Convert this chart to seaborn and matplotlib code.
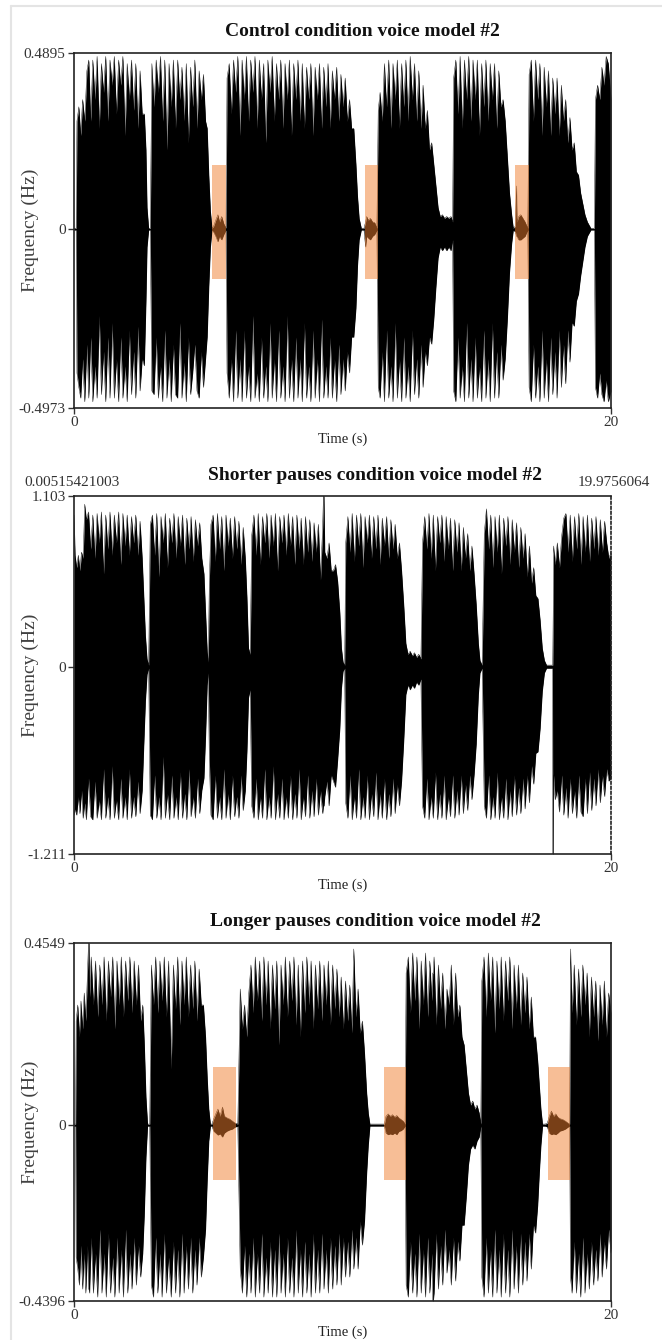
import numpy as np
import matplotlib
matplotlib.use("Agg")
import matplotlib.pyplot as plt
import seaborn as sns

# panel titles / axis limits / tick labels
titles = ["Control condition voice model #2",
          "Shorter pauses condition voice model #2",
          "Longer pauses condition voice model #2"]
y_max = [0.4895, 1.103, 0.4549]
y_min = [-0.4973, -1.211, -0.4396]
y_ticklabels = [["-0.4973", "0", "0.4895"],
                ["-1.211", "0", "1.103"],
                ["-0.4396", "0", "0.4549"]]
x_ticks = [0, 20]
sel_start = "0.00515421003"
sel_end = "19.9756064"

# waveform envelope: (time s, upper, lower)
ctrl_env = [
    (0.00, 0.0025, -0.0025), (0.08, 0.0025, -0.0025),
    (0.11, 0.30, -0.40), (0.18, 0.34, -0.44), (0.25, 0.26, -0.47), (0.32, 0.36, -0.36),
    (0.40, 0.30, -0.48), (0.48, 0.44, -0.32), (0.55, 0.47, -0.47), (0.62, 0.30, -0.30),
    (0.70, 0.47, -0.48), (0.78, 0.36, -0.38), (0.86, 0.48, -0.47), (0.94, 0.28, -0.24),
    (1.02, 0.46, -0.46), (1.10, 0.38, -0.34), (1.18, 0.48, -0.48), (1.26, 0.30, -0.30),
    (1.34, 0.47, -0.47), (1.42, 0.40, -0.26), (1.50, 0.48, -0.47), (1.58, 0.32, -0.36),
    (1.66, 0.47, -0.48), (1.74, 0.40, -0.30), (1.82, 0.48, -0.47), (1.90, 0.26, -0.38),
    (1.98, 0.46, -0.48), (2.06, 0.36, -0.28), (2.14, 0.47, -0.46), (2.22, 0.33, -0.34),
    (2.30, 0.46, -0.47), (2.38, 0.28, -0.27), (2.46, 0.44, -0.45), (2.54, 0.32, -0.36),
    (2.62, 0.32, -0.38), (2.68, 0.22, -0.20), (2.72, 0.06, -0.05), (2.78, 0.0025, -0.0025),
    (2.84, 0.0025, -0.0025),
    (2.90, 0.46, -0.45), (2.98, 0.34, -0.46), (3.06, 0.47, -0.30), (3.14, 0.38, -0.47),
    (3.22, 0.48, -0.38), (3.30, 0.30, -0.48), (3.38, 0.47, -0.28), (3.46, 0.22, -0.47),
    (3.54, 0.46, -0.36), (3.62, 0.34, -0.48), (3.70, 0.47, -0.32), (3.78, 0.28, -0.46),
    (3.86, 0.47, -0.47), (3.94, 0.36, -0.26), (4.02, 0.45, -0.47), (4.10, 0.30, -0.37),
    (4.18, 0.46, -0.48), (4.26, 0.24, -0.30), (4.34, 0.45, -0.46), (4.42, 0.34, -0.40),
    (4.50, 0.47, -0.32), (4.58, 0.28, -0.45), (4.66, 0.44, -0.47), (4.74, 0.36, -0.34),
    (4.82, 0.43, -0.44), (4.90, 0.30, -0.36), (4.96, 0.28, -0.30), (5.02, 0.15, -0.16),
    (5.08, 0.05, -0.05), (5.14, 0.0025, -0.0025),
    (5.20, 0.008, -0.008), (5.28, 0.025, -0.02), (5.36, 0.04, -0.035), (5.42, 0.02, -0.02),
    (5.50, 0.035, -0.03), (5.58, 0.015, -0.015), (5.66, 0.0025, -0.0025),
    (5.70, 0.42, -0.40), (5.78, 0.46, -0.47), (5.86, 0.32, -0.36), (5.94, 0.47, -0.48),
    (6.02, 0.38, -0.28), (6.10, 0.48, -0.47), (6.18, 0.26, -0.36), (6.26, 0.47, -0.48),
    (6.34, 0.36, -0.28), (6.42, 0.48, -0.47), (6.50, 0.30, -0.38), (6.58, 0.47, -0.48),
    (6.66, 0.38, -0.24), (6.74, 0.48, -0.47), (6.82, 0.28, -0.40), (6.90, 0.47, -0.48),
    (6.98, 0.36, -0.30), (7.06, 0.46, -0.47), (7.14, 0.24, -0.38), (7.22, 0.47, -0.48),
    (7.30, 0.38, -0.26), (7.38, 0.48, -0.47), (7.46, 0.30, -0.36), (7.54, 0.46, -0.48),
    (7.62, 0.36, -0.28), (7.70, 0.47, -0.47), (7.78, 0.28, -0.38), (7.86, 0.46, -0.48),
    (7.94, 0.36, -0.24), (8.02, 0.47, -0.47), (8.10, 0.26, -0.36), (8.18, 0.46, -0.48),
    (8.26, 0.36, -0.30), (8.34, 0.47, -0.47), (8.42, 0.30, -0.36), (8.50, 0.46, -0.48),
    (8.58, 0.28, -0.26), (8.66, 0.45, -0.47), (8.74, 0.36, -0.38), (8.82, 0.46, -0.48),
    (8.90, 0.26, -0.28), (8.98, 0.45, -0.47), (9.06, 0.36, -0.36), (9.14, 0.46, -0.48),
    (9.22, 0.28, -0.25), (9.30, 0.45, -0.47), (9.38, 0.34, -0.38), (9.46, 0.46, -0.47),
    (9.54, 0.28, -0.30), (9.62, 0.44, -0.47), (9.70, 0.36, -0.36), (9.78, 0.45, -0.48),
    (9.86, 0.30, -0.32), (9.94, 0.43, -0.46), (10.02, 0.34, -0.36), (10.10, 0.42, -0.45),
    (10.18, 0.30, -0.34), (10.26, 0.36, -0.40), (10.34, 0.28, -0.30), (10.42, 0.28, -0.30),
    (10.50, 0.18, -0.22), (10.56, 0.09, -0.10), (10.62, 0.03, -0.03), (10.70, 0.0025, -0.0025),
    (10.80, 0.0025, -0.0025), (10.86, 0.02, -0.05), (10.90, 0.035, -0.02), (10.96, 0.025, -0.025),
    (11.04, 0.03, -0.03), (11.12, 0.02, -0.02), (11.20, 0.018, -0.015), (11.28, 0.0025, -0.0025),
    (11.33, 0.33, -0.44), (11.40, 0.38, -0.47), (11.48, 0.30, -0.34), (11.56, 0.46, -0.48),
    (11.64, 0.34, -0.28), (11.72, 0.47, -0.47), (11.80, 0.28, -0.38), (11.88, 0.46, -0.48),
    (11.96, 0.36, -0.26), (12.04, 0.47, -0.47), (12.12, 0.28, -0.36), (12.20, 0.46, -0.48),
    (12.28, 0.34, -0.30), (12.36, 0.47, -0.47), (12.44, 0.30, -0.38), (12.52, 0.48, -0.48),
    (12.60, 0.36, -0.28), (12.68, 0.46, -0.46), (12.76, 0.30, -0.36), (12.84, 0.44, -0.47),
    (12.92, 0.28, -0.32), (13.00, 0.40, -0.44), (13.08, 0.28, -0.34), (13.16, 0.33, -0.38),
    (13.24, 0.22, -0.30), (13.32, 0.24, -0.32), (13.40, 0.18, -0.25), (13.48, 0.12, -0.16),
    (13.56, 0.06, -0.08), (13.64, 0.035, -0.05), (13.72, 0.04, -0.06), (13.80, 0.03, -0.05),
    (13.88, 0.035, -0.06), (13.96, 0.03, -0.05), (14.04, 0.035, -0.06), (14.10, 0.02, -0.03),
    (14.14, 0.42, -0.45), (14.22, 0.47, -0.48), (14.30, 0.32, -0.30), (14.38, 0.48, -0.47),
    (14.46, 0.28, -0.38), (14.54, 0.47, -0.48), (14.62, 0.36, -0.26), (14.70, 0.48, -0.47),
    (14.78, 0.30, -0.36), (14.86, 0.47, -0.48), (14.94, 0.36, -0.30), (15.02, 0.47, -0.47),
    (15.10, 0.26, -0.38), (15.18, 0.46, -0.48), (15.26, 0.34, -0.28), (15.34, 0.47, -0.47),
    (15.42, 0.30, -0.36), (15.50, 0.46, -0.48), (15.58, 0.36, -0.26), (15.66, 0.46, -0.47),
    (15.74, 0.28, -0.34), (15.82, 0.44, -0.47), (15.90, 0.34, -0.32), (15.98, 0.36, -0.42),
    (16.06, 0.30, -0.36), (16.14, 0.20, -0.25), (16.22, 0.10, -0.12), (16.30, 0.04, -0.04),
    (16.36, 0.0025, -0.0025),
    (16.44, 0.008, -0.008), (16.48, 0.12, -0.02), (16.50, 0.02, -0.02), (16.56, 0.035, -0.03),
    (16.64, 0.04, -0.03), (16.72, 0.03, -0.025), (16.80, 0.02, -0.02), (16.90, 0.0025, -0.0025),
    (16.95, 0.43, -0.44), (17.03, 0.47, -0.48), (17.11, 0.30, -0.32), (17.19, 0.47, -0.47),
    (17.27, 0.36, -0.38), (17.35, 0.46, -0.48), (17.43, 0.26, -0.28), (17.51, 0.45, -0.47),
    (17.59, 0.34, -0.36), (17.67, 0.44, -0.48), (17.75, 0.26, -0.30), (17.83, 0.42, -0.46),
    (17.91, 0.32, -0.34), (17.99, 0.42, -0.47), (18.07, 0.26, -0.28), (18.15, 0.40, -0.44),
    (18.23, 0.30, -0.32), (18.31, 0.36, -0.43), (18.39, 0.24, -0.28), (18.47, 0.31, -0.37),
    (18.55, 0.22, -0.26), (18.63, 0.24, -0.27), (18.71, 0.16, -0.20), (18.79, 0.15, -0.18),
    (18.87, 0.10, -0.13), (18.95, 0.07, -0.09), (19.03, 0.04, -0.05), (19.12, 0.02, -0.02),
    (19.25, 0.0025, -0.0025), (19.38, 0.0025, -0.0025),
    (19.42, 0.36, -0.44), (19.50, 0.40, -0.47), (19.58, 0.36, -0.40), (19.66, 0.45, -0.46),
    (19.74, 0.40, -0.48), (19.82, 0.48, -0.42), (19.90, 0.46, -0.48), (20.00, 0.36, -0.45),
]

short_env = [
    (0.00, 0.98, -0.96), (0.04, 0.72, -0.92), (0.10, 0.64, -0.96), (0.16, 0.72, -0.84),
    (0.22, 0.62, -0.95), (0.28, 0.74, -0.80), (0.34, 0.70, -0.98), (0.40, 1.05, -0.88),
    (0.46, 0.95, -0.99), (0.54, 1.00, -0.72), (0.62, 0.76, -0.97), (0.70, 0.98, -0.99),
    (0.78, 0.70, -0.74), (0.86, 0.99, -0.98), (0.94, 0.80, -0.86), (1.02, 1.00, -0.99),
    (1.10, 0.60, -0.66), (1.18, 0.98, -0.98), (1.26, 0.76, -0.84), (1.34, 1.00, -0.99),
    (1.42, 0.72, -0.64), (1.50, 0.98, -0.98), (1.58, 0.80, -0.86), (1.66, 1.00, -0.99),
    (1.74, 0.66, -0.72), (1.82, 0.99, -0.98), (1.90, 0.78, -0.84), (1.98, 0.98, -0.99),
    (2.06, 0.72, -0.66), (2.14, 0.97, -0.98), (2.22, 0.80, -0.84), (2.30, 0.98, -0.97),
    (2.38, 0.72, -0.74), (2.46, 0.94, -0.95), (2.54, 0.70, -0.80), (2.60, 0.45, -0.50),
    (2.66, 0.20, -0.22), (2.72, 0.05, -0.05), (2.78, 0.01, -0.01),
    (2.84, 0.92, -0.96), (2.92, 0.98, -0.99), (3.00, 0.72, -0.70), (3.08, 0.99, -0.98),
    (3.16, 0.58, -0.84), (3.24, 0.97, -0.99), (3.32, 0.80, -0.58), (3.40, 0.99, -0.98),
    (3.48, 0.64, -0.82), (3.56, 0.96, -0.99), (3.64, 0.80, -0.70), (3.72, 0.99, -0.98),
    (3.80, 0.70, -0.84), (3.88, 0.97, -0.99), (3.96, 0.78, -0.68), (4.04, 0.98, -0.98),
    (4.12, 0.66, -0.82), (4.20, 0.96, -0.99), (4.28, 0.76, -0.66), (4.36, 0.97, -0.97),
    (4.44, 0.68, -0.84), (4.52, 0.95, -0.98), (4.60, 0.78, -0.72), (4.68, 0.93, -0.95),
    (4.76, 0.70, -0.80), (4.84, 0.60, -0.72), (4.90, 0.35, -0.45), (4.96, 0.10, -0.12),
    (5.00, 0.03, -0.04),
    (5.04, 0.55, -0.60), (5.10, 0.92, -0.96), (5.18, 0.98, -0.99), (5.26, 0.68, -0.70),
    (5.34, 0.99, -0.98), (5.42, 0.76, -0.84), (5.50, 0.97, -0.99), (5.58, 0.62, -0.66),
    (5.66, 0.98, -0.98), (5.74, 0.78, -0.82), (5.82, 0.96, -0.99), (5.90, 0.70, -0.70),
    (5.98, 0.97, -0.97), (6.06, 0.76, -0.84), (6.14, 0.94, -0.98), (6.22, 0.66, -0.70),
    (6.30, 0.90, -0.93), (6.38, 0.70, -0.80), (6.44, 0.45, -0.55), (6.50, 0.12, -0.20),
    (6.56, 0.08, -0.15),
    (6.62, 0.85, -0.90), (6.70, 0.98, -0.98), (6.78, 0.72, -0.72), (6.86, 0.99, -0.99),
    (6.94, 0.66, -0.84), (7.02, 0.97, -0.98), (7.10, 0.80, -0.66), (7.18, 0.99, -0.99),
    (7.26, 0.70, -0.84), (7.34, 0.98, -0.98), (7.42, 0.78, -0.64), (7.50, 0.99, -0.99),
    (7.58, 0.62, -0.82), (7.66, 0.97, -0.98), (7.74, 0.80, -0.72), (7.82, 0.98, -0.99),
    (7.90, 0.72, -0.84), (7.98, 0.99, -0.98), (8.06, 0.78, -0.70), (8.14, 0.97, -0.99),
    (8.22, 0.66, -0.82), (8.30, 0.98, -0.98), (8.38, 0.76, -0.66), (8.46, 0.96, -0.99),
    (8.54, 0.66, -0.84), (8.62, 0.97, -0.97), (8.70, 0.74, -0.70), (8.78, 0.95, -0.98),
    (8.86, 0.68, -0.80), (8.94, 0.93, -0.97), (9.02, 0.74, -0.72), (9.10, 0.92, -0.96),
    (9.18, 0.56, -0.80), (9.26, 0.90, -0.95), (9.29, 1.103, -0.90), (9.31, 1.103, -0.90),
    (9.34, 0.74, -0.84),
    (9.42, 0.70, -0.74), (9.50, 0.80, -0.90), (9.58, 0.62, -0.70), (9.66, 0.62, -0.74),
    (9.74, 0.66, -0.78), (9.82, 0.55, -0.60), (9.90, 0.35, -0.40), (9.96, 0.12, -0.14),
    (10.02, 0.03, -0.03), (10.08, 0.01, -0.01),
    (10.12, 0.80, -0.88), (10.20, 0.97, -0.98), (10.28, 0.74, -0.70), (10.36, 0.99, -0.99),
    (10.44, 0.68, -0.84), (10.52, 0.98, -0.98), (10.60, 0.78, -0.66), (10.68, 0.99, -0.99),
    (10.76, 0.64, -0.84), (10.84, 0.97, -0.98), (10.92, 0.80, -0.70), (11.00, 0.98, -0.99),
    (11.08, 0.70, -0.82), (11.16, 0.97, -0.97), (11.24, 0.76, -0.68), (11.32, 0.98, -0.99),
    (11.40, 0.66, -0.82), (11.48, 0.96, -0.98), (11.56, 0.78, -0.72), (11.64, 0.97, -0.99),
    (11.72, 0.70, -0.82), (11.80, 0.95, -0.97), (11.88, 0.76, -0.72), (11.96, 0.92, -0.95),
    (12.04, 0.70, -0.76), (12.12, 0.80, -0.90), (12.20, 0.62, -0.74), (12.28, 0.40, -0.48),
    (12.36, 0.15, -0.18), (12.44, 0.08, -0.12), (12.52, 0.10, -0.15), (12.60, 0.07, -0.12),
    (12.68, 0.09, -0.14), (12.76, 0.06, -0.10), (12.84, 0.08, -0.12), (12.92, 0.05, -0.08),
    (12.98, 0.80, -0.90), (13.06, 0.97, -0.98), (13.14, 0.76, -0.72), (13.22, 0.99, -0.99),
    (13.30, 0.70, -0.84), (13.38, 0.98, -0.98), (13.46, 0.62, -0.68), (13.54, 0.97, -0.99),
    (13.62, 0.80, -0.82), (13.70, 0.98, -0.98), (13.78, 0.68, -0.70), (13.86, 0.97, -0.99),
    (13.94, 0.76, -0.84), (14.02, 0.96, -0.97), (14.10, 0.62, -0.70), (14.18, 0.95, -0.98),
    (14.26, 0.74, -0.80), (14.34, 0.93, -0.96), (14.42, 0.62, -0.70), (14.50, 0.90, -0.95),
    (14.58, 0.70, -0.76), (14.66, 0.86, -0.93), (14.74, 0.62, -0.70), (14.82, 0.78, -0.86),
    (14.90, 0.60, -0.70), (14.98, 0.40, -0.50), (15.06, 0.15, -0.18), (15.12, 0.04, -0.04),
    (15.20, 0.01, -0.01),
    (15.28, 0.86, -0.90), (15.36, 1.02, -0.98), (15.44, 0.76, -0.70), (15.52, 0.98, -0.99),
    (15.60, 0.64, -0.84), (15.68, 0.97, -0.98), (15.76, 0.74, -0.68), (15.84, 0.98, -0.99),
    (15.92, 0.60, -0.84), (16.00, 0.96, -0.98), (16.08, 0.78, -0.72), (16.16, 0.97, -0.99),
    (16.24, 0.66, -0.80), (16.32, 0.95, -0.97), (16.40, 0.74, -0.70), (16.48, 0.93, -0.96),
    (16.56, 0.64, -0.78), (16.64, 0.90, -0.95), (16.72, 0.70, -0.72), (16.80, 0.86, -0.92),
    (16.88, 0.58, -0.70), (16.96, 0.78, -0.88), (17.04, 0.54, -0.64), (17.12, 0.64, -0.76),
    (17.20, 0.46, -0.56), (17.28, 0.44, -0.55), (17.36, 0.30, -0.40), (17.44, 0.12, -0.16),
    (17.52, 0.04, -0.04), (17.60, 0.01, -0.01), (17.70, 0.01, -0.01), (17.82, 0.01, -0.01),
    (17.83, 0.01, -1.211), (17.85, 0.40, -1.211),
    (17.86, 0.78, -0.70), (17.92, 0.66, -0.86), (18.00, 0.80, -0.80), (18.08, 0.64, -0.94),
    (18.16, 0.84, -0.70), (18.24, 0.96, -0.96), (18.32, 0.99, -0.78), (18.40, 0.74, -0.98),
    (18.48, 0.98, -0.72), (18.56, 0.68, -0.95), (18.64, 0.97, -0.80), (18.72, 0.76, -0.98),
    (18.80, 0.99, -0.70), (18.88, 0.66, -0.94), (18.96, 0.97, -0.97), (19.04, 0.74, -0.72),
    (19.12, 0.98, -0.95), (19.20, 0.68, -0.68), (19.28, 0.96, -0.93), (19.36, 0.76, -0.72),
    (19.44, 0.97, -0.90), (19.52, 0.72, -0.66), (19.60, 0.95, -0.88), (19.68, 0.74, -0.70),
    (19.76, 0.94, -0.84), (19.84, 0.80, -0.66), (19.92, 0.70, -0.74), (20.00, 0.74, -0.72),
]

long_env = [
    (0.00, 0.0025, -0.0025), (0.06, 0.0025, -0.0025),
    (0.08, 0.26, -0.33), (0.14, 0.30, -0.36), (0.20, 0.22, -0.40), (0.26, 0.31, -0.30),
    (0.32, 0.24, -0.41), (0.38, 0.33, -0.32), (0.44, 0.26, -0.42), (0.50, 0.38, -0.30),
    (0.54, 0.4549, -0.41), (0.56, 0.4549, -0.41), (0.58, 0.32, -0.42), (0.64, 0.42, -0.28),
    (0.72, 0.30, -0.42),
    (0.80, 0.41, -0.32), (0.88, 0.27, -0.43), (0.96, 0.40, -0.26), (1.04, 0.30, -0.42),
    (1.12, 0.42, -0.32), (1.20, 0.26, -0.43), (1.28, 0.41, -0.27), (1.36, 0.32, -0.42),
    (1.44, 0.42, -0.33), (1.52, 0.24, -0.43), (1.60, 0.41, -0.28), (1.68, 0.30, -0.42),
    (1.76, 0.42, -0.31), (1.84, 0.27, -0.43), (1.92, 0.41, -0.26), (2.00, 0.31, -0.42),
    (2.08, 0.42, -0.32), (2.16, 0.28, -0.41), (2.24, 0.41, -0.28), (2.32, 0.30, -0.40),
    (2.40, 0.40, -0.30), (2.48, 0.26, -0.38), (2.56, 0.30, -0.32), (2.62, 0.20, -0.22),
    (2.68, 0.07, -0.08), (2.74, 0.0025, -0.0025), (2.82, 0.0025, -0.0025),
    (2.88, 0.40, -0.40), (2.96, 0.30, -0.43), (3.04, 0.42, -0.28), (3.12, 0.28, -0.42),
    (3.20, 0.41, -0.32), (3.28, 0.31, -0.43), (3.36, 0.42, -0.27), (3.44, 0.27, -0.42),
    (3.52, 0.41, -0.33), (3.62, 0.14, -0.43), (3.70, 0.40, -0.29), (3.78, 0.29, -0.42),
    (3.86, 0.42, -0.31), (3.94, 0.25, -0.43), (4.02, 0.41, -0.27), (4.10, 0.30, -0.42),
    (4.18, 0.42, -0.30), (4.26, 0.27, -0.41), (4.34, 0.40, -0.28), (4.42, 0.29, -0.42),
    (4.50, 0.41, -0.31), (4.58, 0.26, -0.40), (4.66, 0.39, -0.28), (4.74, 0.30, -0.38),
    (4.82, 0.30, -0.33), (4.90, 0.22, -0.26), (4.96, 0.12, -0.14), (5.02, 0.04, -0.04),
    (5.08, 0.0025, -0.0025),
    (5.14, 0.0025, -0.0025), (5.20, 0.015, -0.015), (5.28, 0.028, -0.02), (5.36, 0.04, -0.025),
    (5.44, 0.022, -0.022), (5.53, 0.045, -0.03), (5.60, 0.022, -0.02), (5.70, 0.018, -0.015),
    (5.80, 0.015, -0.012), (5.90, 0.01, -0.01), (6.00, 0.005, -0.005), (6.10, 0.0025, -0.0025),
    (6.19, 0.34, -0.36), (6.27, 0.24, -0.42), (6.35, 0.30, -0.30), (6.43, 0.22, -0.43),
    (6.51, 0.33, -0.32), (6.59, 0.40, -0.42), (6.67, 0.28, -0.28), (6.75, 0.42, -0.43),
    (6.83, 0.31, -0.32), (6.91, 0.41, -0.42), (6.99, 0.26, -0.27), (7.07, 0.42, -0.43),
    (7.15, 0.30, -0.33), (7.23, 0.41, -0.42), (7.31, 0.24, -0.29), (7.39, 0.40, -0.43),
    (7.47, 0.29, -0.31), (7.55, 0.41, -0.43), (7.63, 0.20, -0.27), (7.71, 0.40, -0.42),
    (7.79, 0.30, -0.32), (7.87, 0.42, -0.43), (7.95, 0.27, -0.28), (8.03, 0.41, -0.42),
    (8.11, 0.31, -0.33), (8.19, 0.42, -0.43), (8.27, 0.25, -0.26), (8.35, 0.40, -0.42),
    (8.43, 0.22, -0.31), (8.51, 0.41, -0.43), (8.59, 0.28, -0.29), (8.67, 0.42, -0.42),
    (8.75, 0.30, -0.32), (8.83, 0.41, -0.43), (8.91, 0.24, -0.27), (8.99, 0.40, -0.42),
    (9.07, 0.29, -0.31), (9.15, 0.41, -0.42), (9.23, 0.26, -0.27), (9.31, 0.40, -0.41),
    (9.39, 0.30, -0.31), (9.47, 0.41, -0.42), (9.55, 0.25, -0.28), (9.63, 0.40, -0.41),
    (9.71, 0.29, -0.30), (9.79, 0.39, -0.40), (9.87, 0.27, -0.27), (9.95, 0.37, -0.40),
    (10.03, 0.24, -0.28), (10.11, 0.36, -0.38), (10.19, 0.26, -0.29), (10.27, 0.35, -0.38),
    (10.35, 0.23, -0.26), (10.42, 0.44, -0.36), (10.50, 0.27, -0.28), (10.58, 0.34, -0.36),
    (10.66, 0.23, -0.24), (10.74, 0.26, -0.30), (10.82, 0.18, -0.24), (10.90, 0.08, -0.12),
    (10.96, 0.03, -0.05), (11.02, 0.0025, -0.0025), (11.30, 0.0025, -0.0025),
    (11.56, 0.0025, -0.0025), (11.62, 0.022, -0.02), (11.70, 0.028, -0.024), (11.78, 0.022, -0.022),
    (11.86, 0.026, -0.024), (11.94, 0.02, -0.02), (12.02, 0.024, -0.024), (12.10, 0.018, -0.016),
    (12.18, 0.014, -0.014), (12.26, 0.01, -0.01), (12.33, 0.0025, -0.0025),
    (12.37, 0.38, -0.40), (12.45, 0.42, -0.43), (12.53, 0.28, -0.29), (12.61, 0.43, -0.42),
    (12.69, 0.31, -0.32), (12.77, 0.42, -0.43), (12.85, 0.24, -0.27), (12.93, 0.41, -0.42),
    (13.01, 0.30, -0.31), (13.09, 0.43, -0.43), (13.17, 0.27, -0.28), (13.25, 0.41, -0.42),
    (13.33, 0.31, -0.32), (13.36, 0.38, -0.4396), (13.38, 0.38, -0.4396), (13.41, 0.42, -0.42),
    (13.49, 0.25, -0.27),
    (13.57, 0.40, -0.41), (13.65, 0.29, -0.30), (13.73, 0.38, -0.40), (13.81, 0.24, -0.26),
    (13.89, 0.34, -0.37), (13.97, 0.30, -0.31), (14.05, 0.40, -0.40), (14.13, 0.25, -0.28),
    (14.21, 0.38, -0.39), (14.29, 0.27, -0.29), (14.37, 0.30, -0.34), (14.45, 0.22, -0.25),
    (14.53, 0.20, -0.25), (14.61, 0.14, -0.18), (14.69, 0.08, -0.10), (14.77, 0.05, -0.06),
    (14.85, 0.06, -0.05), (14.93, 0.04, -0.06), (15.01, 0.05, -0.04), (15.09, 0.03, -0.03),
    (15.15, 0.0025, -0.0025),
    (15.19, 0.36, -0.38), (15.27, 0.42, -0.43), (15.35, 0.27, -0.28), (15.43, 0.43, -0.42),
    (15.51, 0.31, -0.31), (15.59, 0.42, -0.43), (15.67, 0.23, -0.26), (15.75, 0.41, -0.42),
    (15.83, 0.29, -0.31), (15.91, 0.42, -0.43), (15.99, 0.26, -0.27), (16.07, 0.41, -0.42),
    (16.15, 0.31, -0.31), (16.23, 0.42, -0.43), (16.31, 0.24, -0.26), (16.39, 0.40, -0.41),
    (16.47, 0.29, -0.30), (16.55, 0.40, -0.42), (16.63, 0.25, -0.27), (16.71, 0.38, -0.40),
    (16.79, 0.28, -0.29), (16.87, 0.37, -0.39), (16.95, 0.24, -0.27), (17.03, 0.32, -0.36),
    (17.11, 0.22, -0.25), (17.19, 0.22, -0.27), (17.27, 0.16, -0.20), (17.33, 0.10, -0.12),
    (17.39, 0.04, -0.05), (17.45, 0.0025, -0.0025), (17.55, 0.0025, -0.0025),
    (17.63, 0.005, -0.005), (17.70, 0.022, -0.02), (17.78, 0.035, -0.024), (17.86, 0.022, -0.022),
    (17.94, 0.028, -0.024), (18.02, 0.02, -0.02), (18.10, 0.016, -0.015), (18.20, 0.014, -0.013),
    (18.30, 0.01, -0.01), (18.40, 0.005, -0.005), (18.46, 0.0025, -0.0025),
    (18.49, 0.44, -0.38), (18.55, 0.28, -0.42), (18.63, 0.40, -0.29), (18.71, 0.25, -0.42),
    (18.79, 0.39, -0.32), (18.87, 0.27, -0.43), (18.95, 0.40, -0.28), (19.03, 0.30, -0.42),
    (19.11, 0.38, -0.32), (19.19, 0.22, -0.41), (19.27, 0.37, -0.29), (19.35, 0.27, -0.40),
    (19.43, 0.36, -0.31), (19.51, 0.21, -0.39), (19.59, 0.35, -0.27), (19.67, 0.25, -0.38),
    (19.75, 0.36, -0.29), (19.83, 0.22, -0.36), (19.91, 0.33, -0.26), (20.00, 0.28, -0.32),
]

# highlighted pauses: start, end (s), bottom, top
ctrl_pause_start = [5.15, 10.83, 16.42]
ctrl_pause_end = [5.66, 11.33, 16.93]
ctrl_pause_lo = -0.138
ctrl_pause_hi = 0.177
long_pause_start = [5.18, 11.56, 17.65]
long_pause_end = [6.03, 12.35, 18.47]
long_pause_lo = -0.137
long_pause_hi = 0.146

sns.set_style("white")
plt.rcParams["font.family"] = ["Liberation Serif", "DejaVu Serif"]

W, H = 662, 1340
fig = plt.figure(figsize=(W / 100, H / 100), dpi=100)

# faint frame of the screenshot
fig.add_artist(plt.Line2D([11 / W, 11 / W], [0, 1 - 6 / H], color="#e4e4e4", lw=1.5))
fig.add_artist(plt.Line2D([11 / W, 1], [1 - 6 / H, 1 - 6 / H], color="#e4e4e4", lw=1.5))

envs = [ctrl_env, short_env, long_env]
pauses = [(ctrl_pause_start, ctrl_pause_end, ctrl_pause_lo, ctrl_pause_hi), None,
          (long_pause_start, long_pause_end, long_pause_lo, long_pause_hi)]
tops = [53, 496, 943]
bottoms = [408, 854, 1301]
left, right = 74, 611

for i in range(3):
    ax = fig.add_axes([left / W, 1 - bottoms[i] / H, (right - left) / W,
                       (bottoms[i] - tops[i]) / H])
    t, up, lo = np.array(envs[i]).T
    ax.fill_between(t, lo, up, color="black", lw=0, zorder=2)
    sns.lineplot(x=t, y=up, ax=ax, color="black", lw=0.3, zorder=2)
    sns.lineplot(x=t, y=lo, ax=ax, color="black", lw=0.3, zorder=2)
    if pauses[i] is not None:
        ps, pe, plo, phi = pauses[i]
        for s, e in zip(ps, pe):
            ax.fill_between([s, e], [plo, plo], [phi, phi], color="#F07F2F",
                            alpha=0.5, lw=0, zorder=3)

    ax.set_xlim(0, 20)
    ax.set_ylim(y_min[i], y_max[i])
    ax.set_xticks(x_ticks)
    ax.set_xticklabels([str(v) for v in x_ticks])
    ax.set_yticks([y_min[i], 0, y_max[i]])
    ax.set_yticklabels(y_ticklabels[i])
    ax.tick_params(axis="both", which="both", bottom=True, left=True, length=4,
                   width=1, color="#333333", labelsize=11, labelcolor="#333333", pad=2)
    for side in ["left", "bottom", "top", "right"]:
        ax.spines[side].set_visible(True)
        ax.spines[side].set_color("#222222")
        ax.spines[side].set_linewidth(1.2)
    if i == 1:
        ax.spines["right"].set_linestyle((0, (1.5, 1.5)))

    ax.set_ylabel("Frequency (Hz)", fontsize=14, color="#404040")
    ax.yaxis.label.set_verticalalignment("center")
    ax.yaxis.set_label_coords(-44 / (right - left), 0.5)
    ax.set_xlabel("Time (s)", fontsize=10.5, color="#222222")
    ax.xaxis.label.set_verticalalignment("center")
    ax.xaxis.set_label_coords(0.5, -31 / (bottoms[i] - tops[i]))

    title_x = 0.5 + ((362 if i == 0 else 375) - (left + right) / 2) / (right - left)
    ax.text(title_x, 1 + 21 / (bottoms[i] - tops[i]), titles[i], transform=ax.transAxes,
            ha="center", va="center", fontsize=14, fontweight="bold", color="#111111")

fig.text(24 / W, 1 - 483 / H, sel_start, ha="left", va="center", fontsize=11, color="#333333")
fig.text(650 / W, 1 - 483 / H, sel_end, ha="right", va="center", fontsize=11, color="#333333")

fig.savefig("out.png", dpi=100, facecolor="white")
